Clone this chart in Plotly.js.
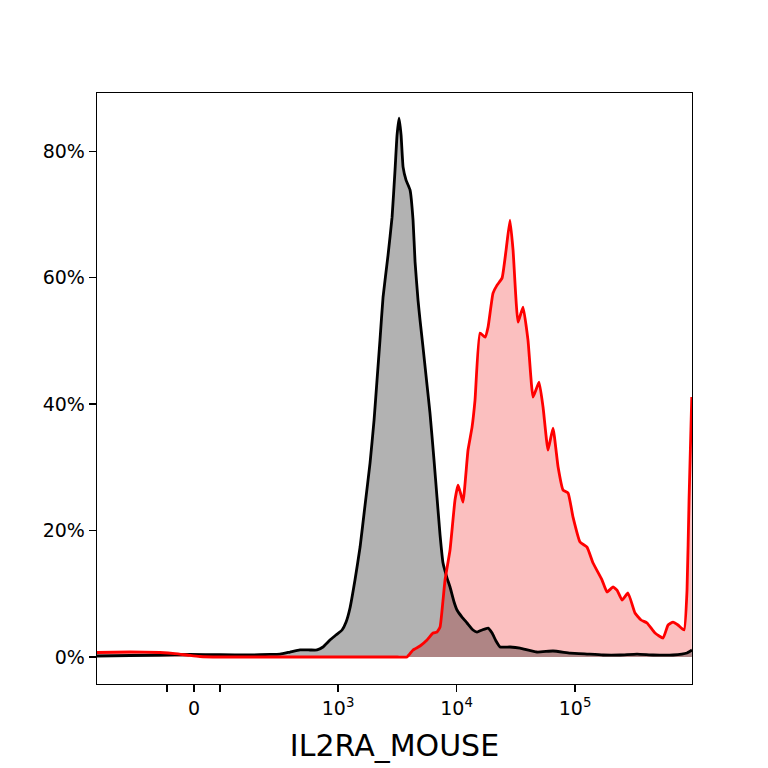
<!DOCTYPE html>
<html>
<head>
<meta charset="utf-8">
<script src="https://cdn.plot.ly/plotly-3.0.1.min.js"></script>
<style>
  html, body { margin: 0; padding: 0; background: #ffffff; }
  #chart { width: 768px; height: 768px; }
</style>
</head>
<body>
<div id="chart"></div>
<script>
// x values are positions on the biexponential axis, in decades (10^3 -> 3)
const blackX = [0.966, 1.245, 1.498, 1.751, 2.004, 2.257, 2.426, 2.511, 2.595, 2.679, 2.764, 2.823,
  2.873, 2.932, 2.983, 3.034, 3.068, 3.101, 3.143, 3.186, 3.228, 3.270, 3.304, 3.329, 3.354, 3.380,
  3.422, 3.456, 3.481, 3.498, 3.515, 3.532, 3.549, 3.574, 3.608, 3.633, 3.650, 3.675, 3.692, 3.717,
  3.751, 3.776, 3.810, 3.835, 3.861, 3.886, 3.920, 3.945, 3.979, 4.004, 4.046, 4.089, 4.139, 4.173,
  4.215, 4.266, 4.300, 4.333, 4.367, 4.451, 4.536, 4.679, 4.814, 4.958, 5.101, 5.236, 5.380, 5.523,
  5.658, 5.827, 5.945, 5.987];
const blackY = [0.16, 0.24, 0.32, 0.40, 0.36, 0.32, 0.40, 0.47, 0.79, 1.11, 1.11, 1.11,
  1.58, 2.69, 3.48, 4.27, 5.53, 7.75, 12.17, 17.39, 24.03, 30.67, 37.47, 43.79, 50.12, 56.92,
  63.56, 69.56, 76.99, 82.53, 85.22, 82.53, 77.47, 75.41, 73.85, 69.09, 62.5, 56.44, 53.28, 49.01,
  43.00, 38.58, 31.15, 25.30, 19.29, 14.86, 12.49, 11.07, 8.70, 7.43, 6.32, 5.38, 4.27, 3.95,
  4.27, 4.58, 3.79, 2.53, 1.58, 1.58, 1.42, 0.79, 0.95, 0.63, 0.47, 0.32, 0.32, 0.47,
  0.32, 0.32, 0.63, 1.11];

const redX = [0.966, 1.245, 1.498, 1.624, 1.751, 1.835, 2.004, 2.300, 2.679, 3.000, 3.300, 3.500,
  3.582, 3.633, 3.692, 3.751,
  3.802, 3.835, 3.861, 3.886, 3.903, 3.945, 3.987, 4.013, 4.038, 4.055, 4.097, 4.131, 4.156, 4.198,
  4.241, 4.266, 4.308, 4.342, 4.384, 4.418, 4.451, 4.477, 4.519, 4.561, 4.603, 4.646, 4.696, 4.730,
  4.772, 4.814, 4.857, 4.899, 4.941, 4.983, 5.042, 5.101, 5.152, 5.228, 5.270, 5.321, 5.354, 5.397,
  5.447, 5.506, 5.557, 5.608, 5.675, 5.743, 5.785, 5.827, 5.869, 5.920, 5.945, 5.962, 5.985];
const redY = [0.71, 0.79, 0.71, 0.55, 0.24, 0.08, 0, 0, 0, 0, 0, 0,
  0, 1.11, 1.74, 2.69,
  3.79, 3.95, 4.74, 9.01, 12.17, 16.92, 24.82, 27.19, 25.61, 24.51, 32.73, 36.36, 40.63, 51.22,
  50.59, 52.17, 57.55, 58.81, 59.92, 64.35, 69.09, 64.35, 52.96, 55.34, 50.12, 41.11, 43.48, 39.53,
  32.73, 36.20, 30.04, 26.40, 25.93, 22.13, 18.18, 17.39, 14.86, 12.17, 10.28, 11.07, 10.59, 9.01,
  10.12, 6.96, 5.85, 5.38, 3.79, 3.00, 5.06, 5.53, 5.06, 4.27, 10.59, 24.82, 41.11];

const xTickVals = [1.785, 3, 4, 5];
const xTickText = ['0', '10<sup>3</sup>', '10<sup>4</sup>', '10<sup>5</sup>'];
const xMinorVals = [1.557, 2.004];
const yTickVals = [0, 20, 40, 60, 80];
const yTickText = ['0%', '20%', '40%', '60%', '80%'];

const font = 'DejaVu Sans, sans-serif';
const curve = { shape: 'spline', smoothing: 0.4 };

const data = [
  // fills first, lines on top
  { x: redX, y: redY, type: 'scatter', mode: 'none', fill: 'tozeroy',
    fillcolor: 'rgba(240,0,0,0.25)', line: curve, hoverinfo: 'skip' },
  { x: blackX, y: blackY, type: 'scatter', mode: 'none', fill: 'tozeroy',
    fillcolor: 'rgba(0,0,0,0.3)', line: curve, hoverinfo: 'skip' },
  { x: blackX, y: blackY, type: 'scatter', mode: 'lines',
    line: Object.assign({ color: '#000000', width: 2.8 }, curve) },
  { x: redX, y: redY, type: 'scatter', mode: 'lines',
    line: Object.assign({ color: '#ff0000', width: 2.8 }, curve) }
];

const layout = {
  width: 768,
  height: 768,
  showlegend: false,
  paper_bgcolor: '#ffffff',
  plot_bgcolor: '#ffffff',
  margin: { l: 97, r: 76, t: 93, b: 84 },
  font: { family: font, color: '#000000', size: 19 },
  xaxis: {
    range: [0.966, 5.987],
    showgrid: false,
    zeroline: false,
    showline: true,
    mirror: true,
    linecolor: '#000000',
    linewidth: 1.3,
    ticks: 'outside',
    ticklen: 7,
    tickwidth: 1.3,
    tickcolor: '#000000',
    tickmode: 'array',
    tickvals: xTickVals,
    ticktext: xTickText,
    minor: { tickmode: 'array', tickvals: xMinorVals, ticks: 'outside', ticklen: 7,
      tickwidth: 1.3, tickcolor: '#000000', showgrid: false },
    tickfont: { family: font, size: 19, color: '#000000' },
    title: { text: 'IL2RA_MOUSE', font: { family: font, size: 30, color: '#000000' }, standoff: 17 },
    automargin: false
  },
  yaxis: {
    range: [-4.27, 89.2],
    showgrid: false,
    zeroline: false,
    showline: true,
    mirror: true,
    linecolor: '#000000',
    linewidth: 1.3,
    ticks: 'outside',
    ticklen: 7,
    tickwidth: 1.3,
    tickcolor: '#000000',
    tickmode: 'array',
    tickvals: yTickVals,
    ticktext: yTickText,
    tickfont: { family: font, size: 19, color: '#000000' },
    automargin: false
  }
};

Plotly.newPlot('chart', data, layout, { staticPlot: true, displayModeBar: false });
</script>
</body>
</html>
